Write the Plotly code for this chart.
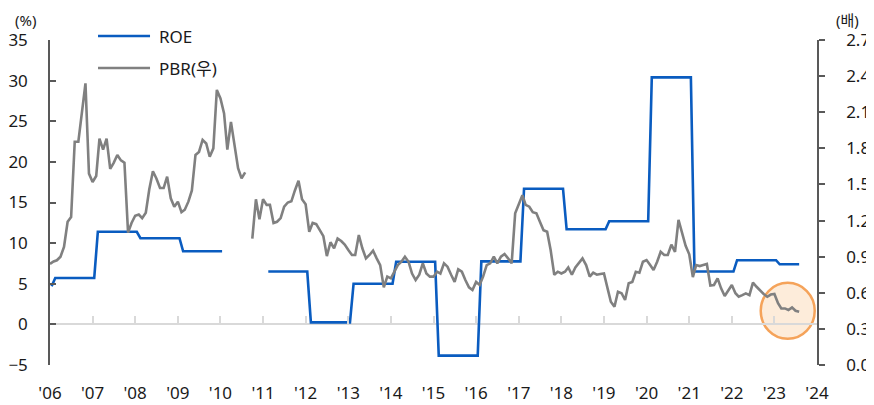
import plotly.graph_objects as go
import pandas as pd

# ---------------- data ----------------
# ROE (%), annual values shown as a step series (value changes each February)
roe_dates = ["2006-01-15", "2006-02-15", "2007-01-15", "2007-02-15", "2008-01-15", "2008-02-15",
             "2009-01-15", "2009-02-15", "2010-01-15", "2010-07-01", "2011-02-15", "2012-01-15",
             "2012-02-15", "2013-01-15", "2013-02-15", "2014-01-15", "2014-02-15", "2015-01-15",
             "2015-02-15", "2016-01-15", "2016-02-15", "2017-01-15", "2017-02-15", "2018-01-15",
             "2018-02-15", "2019-01-15", "2019-02-15", "2020-01-15", "2020-02-15", "2021-01-15",
             "2021-02-15", "2022-01-15", "2022-02-15", "2023-01-15", "2023-02-15", "2023-08-01"]
roe_values = [4.7, 5.7, 5.7, 11.4, 11.4, 10.6,
              10.6, 9.0, 9.0, None, 6.5, 6.5,
              0.25, 0.25, 5.0, 5.0, 7.7, 7.7,
              -3.85, -3.85, 7.75, 7.75, 16.7, 16.7,
              11.7, 11.7, 12.7, 12.7, 30.4, 30.4,
              6.5, 6.5, 7.9, 7.9, 7.4, 7.4]

# PBR (배), monthly from Jan 2006 to Aug 2023
pbr_2006 = [0.84, 0.86, 0.87, 0.90, 0.98, 1.19, 1.23, 1.855, 1.855, 2.09, 2.34, 1.59]
pbr_2007 = [1.52, 1.57, 1.88, 1.79, 1.88, 1.63, 1.68, 1.745, 1.70, 1.68, 1.10, 1.18]
pbr_2008 = [1.24, 1.25, 1.22, 1.265, 1.46, 1.61, 1.55, 1.47, 1.47, 1.565, 1.385, 1.315]
pbr_2009 = [1.357, 1.27, 1.29, 1.357, 1.45, 1.745, 1.77, 1.87, 1.84, 1.73, 1.80, 2.285]
pbr_2010 = [2.215, 2.09, 1.79, 2.02, 1.83, 1.635, 1.55, 1.60, None, 1.05, 1.377, 1.21]
pbr_2011 = [1.377, 1.33, 1.33, 1.18, 1.19, 1.22, 1.315, 1.35, 1.36, 1.45, 1.53, 1.377]
pbr_2012 = [1.335, 1.107, 1.18, 1.17, 1.12, 1.07, 0.905, 1.02, 0.97, 1.05, 1.03, 1.0]
pbr_2013 = [0.955, 0.914, 0.914, 1.08, 0.97, 0.886, 0.914, 0.95, 0.886, 0.83, 0.645, 0.734]
pbr_2014 = [0.72, 0.775, 0.83, 0.858, 0.90, 0.858, 0.76, 0.706, 0.75, 0.845, 0.76, 0.734]
pbr_2015 = [0.734, 0.775, 0.76, 0.845, 0.817, 0.75, 0.69, 0.795, 0.775, 0.706, 0.645, 0.623]
pbr_2016 = [0.69, 0.665, 0.734, 0.83, 0.845, 0.90, 0.845, 0.90, 0.922, 0.886, 0.845, 1.26]
pbr_2017 = [1.343, 1.41, 1.33, 1.315, 1.27, 1.26, 1.19, 1.12, 1.107, 0.955, 0.75, 0.775]
pbr_2018 = [0.76, 0.775, 0.81, 0.75, 0.81, 0.85, 0.886, 0.83, 0.734, 0.767, 0.75, 0.756]
pbr_2019 = [0.76, 0.637, 0.526, 0.484, 0.609, 0.596, 0.54, 0.68, 0.69, 0.775, 0.767, 0.858]
pbr_2020 = [0.872, 0.83, 0.79, 0.858, 0.94, 0.914, 0.914, 1.0, 0.94, 1.205, 1.10, 0.99]
pbr_2021 = [0.92, 0.73, 0.83, 0.822, 0.83, 0.839, 0.66, 0.665, 0.72, 0.637, 0.573, 0.623]
pbr_2022 = [0.665, 0.596, 0.567, 0.58, 0.595, 0.58, 0.684, 0.65, 0.617, 0.59, 0.567, 0.585]
pbr_2023 = [0.59, 0.513, 0.47, 0.47, 0.457, 0.479, 0.451, 0.443]

pbr_values = (pbr_2006 + pbr_2007 + pbr_2008 + pbr_2009 + pbr_2010 + pbr_2011 + pbr_2012 +
              pbr_2013 + pbr_2014 + pbr_2015 + pbr_2016 + pbr_2017 + pbr_2018 + pbr_2019 +
              pbr_2020 + pbr_2021 + pbr_2022 + pbr_2023)
pbr_dates = pd.date_range("2006-01-01", periods=len(pbr_values), freq="MS")

series_names = ["ROE", "PBR(우)"]
left_unit = "(%)"
right_unit = "(배)"
highlight_date = "2023-04-25"
highlight_pbr = 0.45

# ---------------- style ----------------
BLUE = "#0a5cc0"
GRAY = "#808080"
AXIS = "#595959"
TXT = "#1a1a1a"
FONT = "Noto Sans, Noto Sans CJK KR, sans-serif"
X_RANGE = ["2006-01-01", "2024-01-01"]

fig = go.Figure()
fig.add_trace(go.Scatter(x=roe_dates, y=roe_values, name=series_names[0], mode="lines",
                         line=dict(color=BLUE, width=2.6), xaxis="x", yaxis="y",
                         connectgaps=False, showlegend=False))
fig.add_trace(go.Scatter(x=pbr_dates, y=pbr_values, name=series_names[1], mode="lines",
                         line=dict(color=GRAY, width=2.6), xaxis="x", yaxis="y2",
                         connectgaps=False, showlegend=False))
# carrier for the year tick marks that sit on the zero line
fig.add_trace(go.Scatter(x=X_RANGE, y=[None, None], xaxis="x2", yaxis="y",
                         showlegend=False, hoverinfo="skip", mode="lines"))

# the page adds an 8px body margin, so the figure is 8px smaller than the window
fig.update_layout(
    width=866, height=397,
    margin=dict(l=42, r=57, t=32, b=40, autoexpand=False),
    paper_bgcolor="white", plot_bgcolor="white",
    font=dict(family=FONT, size=17, color=TXT),
    showlegend=False,
    xaxis=dict(type="date", range=X_RANGE, dtick="M12", tick0="2006-01-01",
               tickformat="'%y", showgrid=False, zeroline=False, showline=False,
               ticks="", ticklabelstandoff=16, tickfont=dict(size=17), automargin=False),
    xaxis2=dict(type="date", range=X_RANGE, dtick="M12", tick0="2006-01-01",
                overlaying="x", anchor="free", position=0.125, side="bottom",
                showticklabels=False, showgrid=False, zeroline=False, showline=False,
                ticks="inside", ticklen=8, tickwidth=1.5, tickcolor="#d9d9d9", automargin=False),
    yaxis=dict(range=[-5, 35], dtick=5, tick0=0, showgrid=False,
               zeroline=True, zerolinecolor="#d9d9d9", zerolinewidth=2,
               showline=True, linecolor=AXIS, linewidth=1.5,
               ticks="inside", ticklen=6, tickcolor=AXIS, tickwidth=1.5,
               tickfont=dict(size=17), ticklabelstandoff=17, automargin=False),
    yaxis2=dict(range=[0, 2.7], dtick=0.3, tick0=0, tickformat=".1f",
                overlaying="y", side="right", anchor="x", showgrid=False, zeroline=False,
                showline=True, linecolor=AXIS, linewidth=1.5,
                ticks="outside", ticklen=6, tickcolor=AXIS, tickwidth=1.5,
                tickfont=dict(size=17), ticklabelstandoff=18, automargin=False),
)

# axis unit labels
fig.add_annotation(text=left_unit, xref="paper", yref="paper", x=-0.032, y=1.06,
                   xanchor="center", yanchor="middle", showarrow=False, borderpad=0,
                   font=dict(size=15))
fig.add_annotation(text=right_unit, xref="paper", yref="paper", x=1.0404, y=1.06,
                   xanchor="center", yanchor="middle", showarrow=False, borderpad=0,
                   font=dict(size=15))

# legend (drawn by hand to match the long legend lines)
legend_rows = [(series_names[0], BLUE, 1.0123), (series_names[1], GRAY, 0.9138)]
for name, col, ypos in legend_rows:
    fig.add_shape(type="line", xref="paper", yref="paper", x0=0.0626, x1=0.1304,
                  y0=ypos, y1=ypos, line=dict(color=col, width=2.6))
    fig.add_annotation(text=name, xref="paper", yref="paper", x=0.1395, y=ypos,
                       xanchor="left", yanchor="middle", showarrow=False,
                       font=dict(size=17, color=TXT))

# highlight circle
fig.add_shape(type="circle", xref="x", yref="y2", xsizemode="pixel", ysizemode="pixel",
              xanchor=highlight_date, yanchor=highlight_pbr,
              x0=-27, x1=27, y0=-28, y1=28,
              line=dict(color="#f5a35a", width=2.5),
              fillcolor="rgba(250, 200, 150, 0.35)", layer="below")

fig.write_html("out.html")
